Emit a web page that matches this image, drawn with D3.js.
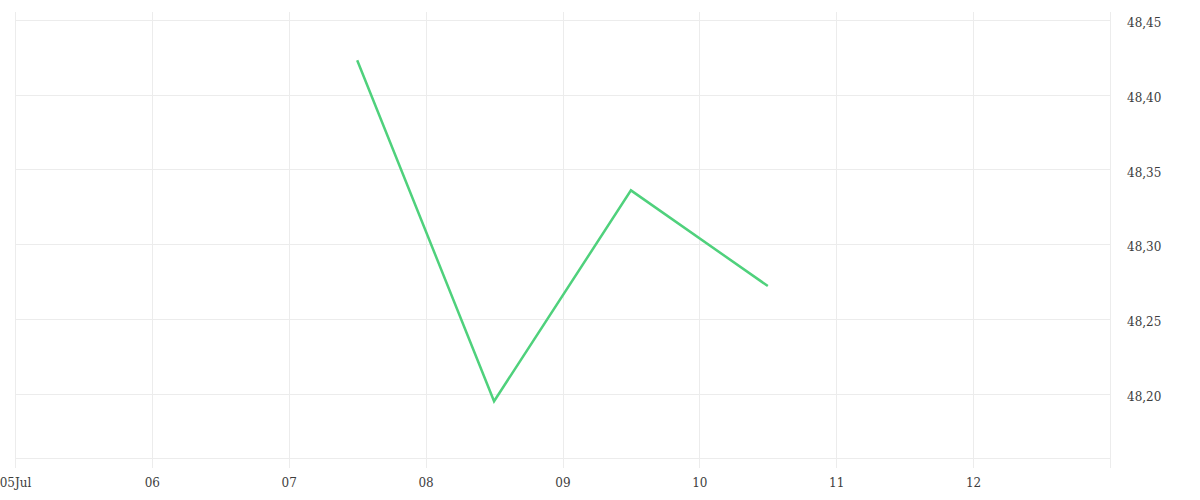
<!DOCTYPE html>
<html>
<head>
    <style>
        body {
            margin: 0;
            padding: 0;
            background: #fff;
        }
        .tick text {
            font-family: "DejaVu Serif", serif;
            font-size: 12px;
            fill: #3d3d3d;
        }
        .grid line {
            stroke: #ececec;
            stroke-width: 1;
        }
    </style>
    <script src="https://d3js.org/d3.v7.min.js"></script>
</head>
<body>
<div id="chart"></div>
<script>
    // values (one point per day, at midday)
    var dates = ["2023-07-07T12:00", "2023-07-08T12:00", "2023-07-09T12:00", "2023-07-10T12:00"];
    var prices = [48.423, 48.195, 48.336, 48.272];
    var yTicks = [48.20, 48.25, 48.30, 48.35, 48.40, 48.45];
    var dayTicks = ["2023-07-05", "2023-07-06", "2023-07-07", "2023-07-08",
                    "2023-07-09", "2023-07-10", "2023-07-11", "2023-07-12", "2023-07-13"];

    var W = 1200, H = 500;
    var margin = { top: 12, right: 90, bottom: 42, left: 15 };
    var width = W - margin.left - margin.right;
    var height = H - margin.top - margin.bottom;

    var parse = d3.timeParse("%Y-%m-%dT%H:%M");
    var parseDay = d3.timeParse("%Y-%m-%d");
    var data = dates.map(function(d, i) { return { date: parse(d), value: prices[i] }; });
    var days = dayTicks.map(parseDay);

    var svg = d3.select("#chart").append("svg")
        .attr("width", W)
        .attr("height", H);

    var g = svg.append("g")
        .attr("transform", "translate(" + margin.left + "," + margin.top + ")");

    var x = d3.scaleTime()
        .domain([days[0], days[days.length - 1]])
        .range([0, width]);

    var y = d3.scaleLinear()
        .domain([48.157, 48.4553])
        .range([height, 0]);

    // horizontal grid
    g.append("g")
        .attr("class", "grid")
        .selectAll("line")
        .data(yTicks)
        .enter().append("line")
        .attr("x1", 0)
        .attr("x2", width)
        .attr("y1", function(d) { return Math.round(y(d)) + 0.5; })
        .attr("y2", function(d) { return Math.round(y(d)) + 0.5; });

    // bottom line
    g.append("line")
        .attr("x1", 0).attr("x2", width)
        .attr("y1", height + 0.5).attr("y2", height + 0.5)
        .attr("stroke", "#ececec");

    // vertical grid, running 10px below the plot like ticks
    g.append("g")
        .attr("class", "grid")
        .selectAll("line")
        .data(days)
        .enter().append("line")
        .attr("x1", function(d) { return Math.round(x(d)) + 0.5; })
        .attr("x2", function(d) { return Math.round(x(d)) + 0.5; })
        .attr("y1", 0)
        .attr("y2", height + 10);

    // x axis labels
    var fmtFirst = d3.timeFormat("%d%b"), fmtDay = d3.timeFormat("%d");
    var xAxis = g.append("g")
        .attr("transform", "translate(0," + height + ")")
        .call(d3.axisBottom(x)
            .tickValues(days.slice(0, days.length - 1))
            .tickSize(0)
            .tickPadding(20)
            .tickFormat(function(d, i) { return i === 0 ? fmtFirst(d) : fmtDay(d); }));
    xAxis.select(".domain").remove();

    // y axis on the right
    var yAxis = g.append("g")
        .attr("transform", "translate(" + width + ",0)")
        .call(d3.axisRight(y)
            .tickValues(yTicks)
            .tickSize(0)
            .tickPadding(17)
            .tickFormat(function(d) { return d3.format(".2f")(d).replace(".", ","); }));
    yAxis.select(".domain").remove();
    yAxis.selectAll(".tick text").attr("dy", "0.55em");

    var line = d3.line()
        .x(function(d) { return x(d.date); })
        .y(function(d) { return y(d.value); });

    g.append("path")
        .datum(data)
        .attr("fill", "none")
        .attr("stroke", "#4fd17c")
        .attr("stroke-width", 2.5)
        .attr("d", line);
</script>
</body>
</html>
